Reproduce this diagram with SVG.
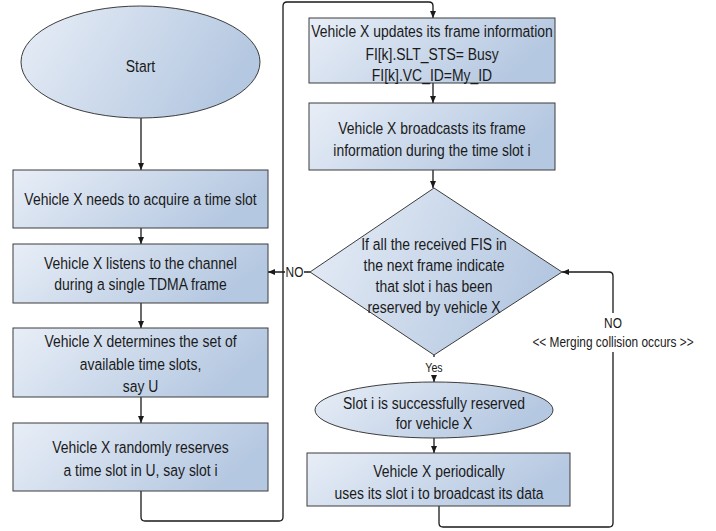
<svg xmlns="http://www.w3.org/2000/svg" width="716" height="531" viewBox="0 0 716 531">
<defs>
<linearGradient id="g" x1="0" y1="0" x2="1" y2="0.3">
<stop offset="0" stop-color="#e8eef7"/>
<stop offset="1" stop-color="#b5c8e1"/>
</linearGradient>
<marker id="a" markerUnits="userSpaceOnUse" markerWidth="8" markerHeight="8" refX="7" refY="4" orient="auto">
<path d="M0,1 L7,4 L0,7 z" fill="#1a1a1a"/>
</marker>
</defs>
<style>
.s{fill:url(#g);stroke:#3c3c3c;stroke-width:1}
.t{font-family:"Liberation Sans",Arial,sans-serif;font-size:17px;fill:#1a1a1a;text-anchor:middle}
.l{font-family:"Liberation Sans",Arial,sans-serif;font-size:14.5px;fill:#1a1a1a;text-anchor:middle}
.c{fill:none;stroke:#1a1a1a;stroke-width:1.3}
.bg{fill:#ffffff}
</style>
<rect width="716" height="531" fill="#ffffff"/>

<g id="connectors">
<path class="c" d="M141 118 V170" marker-end="url(#a)"/>
<path class="c" d="M141 228 V244" marker-end="url(#a)"/>
<path class="c" d="M141 303 V328" marker-end="url(#a)"/>
<path class="c" d="M141 397 V423" marker-end="url(#a)"/>
<path class="c" d="M141 491 V517 Q141 521 145 521 H279 Q283 521 283 517 V6 Q283 2 287 2 H429 Q433 2 433 6 V18" marker-end="url(#a)"/>
<path class="c" d="M433 83 V103" marker-end="url(#a)"/>
<path class="c" d="M433 170 V188" marker-end="url(#a)"/>
<path class="c" d="M310 272 H268" marker-end="url(#a)"/>
<path class="c" d="M434 355 V382" marker-end="url(#a)"/>
<path class="c" d="M434 438 V453" marker-end="url(#a)"/>
<path class="c" d="M439 506 V523 Q439 527 443 527 H609 Q613 527 613 523 V276 Q613 272 609 272 H562" marker-end="url(#a)"/>
<rect class="bg" x="285" y="264" width="19" height="16"/>
<g transform="translate(294.5,0) scale(0.82,1)"><text class="l" x="0" y="277">NO</text></g>
<rect class="bg" x="424" y="357" width="20" height="18"/>
<g transform="translate(434,0) scale(0.82,1)"><text class="l" x="0" y="372" style="font-size:13px">Yes</text></g>
<rect class="bg" x="530" y="313" width="166" height="39"/>
<g transform="translate(613,0) scale(0.82,1)"><text class="l" x="0" y="328">NO</text><text class="l" x="0" y="347">&lt;&lt; Merging collision occurs &gt;&gt;</text></g>
</g>

<g id="start">
<ellipse class="s" cx="140.5" cy="62" rx="119.5" ry="56"/>
<g transform="translate(140.5,0) scale(0.82,1)"><text class="t" x="0" y="72">Start</text></g>
</g>

<g id="acquire">
<rect class="s" x="13" y="170" width="255" height="58"/>
<g transform="translate(140.5,0) scale(0.82,1)"><text class="t" x="0" y="205">Vehicle X needs to acquire a time slot</text></g>
</g>

<g id="listen">
<rect class="s" x="13" y="244" width="255" height="59"/>
<g transform="translate(140.5,0) scale(0.82,1)"><text class="t" x="0" y="269">Vehicle X listens to the channel</text><text class="t" x="0" y="290">during a single TDMA frame</text></g>
</g>

<g id="determine">
<rect class="s" x="13" y="328" width="255" height="69"/>
<g transform="translate(140.5,0) scale(0.82,1)"><text class="t" x="0" y="347">Vehicle X determines the set of</text><text class="t" x="0" y="370">available time slots,</text><text class="t" x="0" y="392">say U</text></g>
</g>

<g id="reserve">
<rect class="s" x="13" y="423" width="255" height="68"/>
<g transform="translate(140.5,0) scale(0.82,1)"><text class="t" x="0" y="453">Vehicle X randomly reserves</text><text class="t" x="0" y="476">a time slot in U, say slot  i</text></g>
</g>

<g id="update">
<rect class="s" x="309" y="18" width="246" height="65"/>
<g transform="translate(432,0) scale(0.82,1)"><text class="t" x="0" y="37.5">Vehicle X updates its frame information</text><text class="t" x="0" y="60">FI[k].SLT_STS= Busy</text><text class="t" x="0" y="81.5">FI[k].VC_ID=My_ID</text></g>
</g>

<g id="broadcast">
<rect class="s" x="309" y="103" width="246" height="67"/>
<g transform="translate(432,0) scale(0.82,1)"><text class="t" x="0" y="134">Vehicle X broadcasts its frame</text><text class="t" x="0" y="156">information during the time slot i</text></g>
</g>

<g id="decision">
<polygon class="s" points="434,188 562,272 434,355 310,272"/>
<g transform="translate(434,0) scale(0.82,1)"><text class="t" x="0" y="250">If all the received FIS in</text><text class="t" x="0" y="271">the next frame indicate</text><text class="t" x="0" y="292">that slot i has been</text><text class="t" x="0" y="313">reserved by vehicle X</text></g>
</g>

<g id="success">
<ellipse class="s" cx="434" cy="410" rx="119" ry="28"/>
<g transform="translate(434,0) scale(0.82,1)"><text class="t" x="0" y="409">Slot i is successfully reserved</text><text class="t" x="0" y="429">for vehicle X</text></g>
</g>

<g id="periodic">
<rect class="s" x="307" y="453" width="263" height="53"/>
<g transform="translate(439,0) scale(0.82,1)"><text class="t" x="0" y="477">Vehicle X periodically</text><text class="t" x="0" y="499">uses its slot i to broadcast its data</text></g>
</g>
</svg>
